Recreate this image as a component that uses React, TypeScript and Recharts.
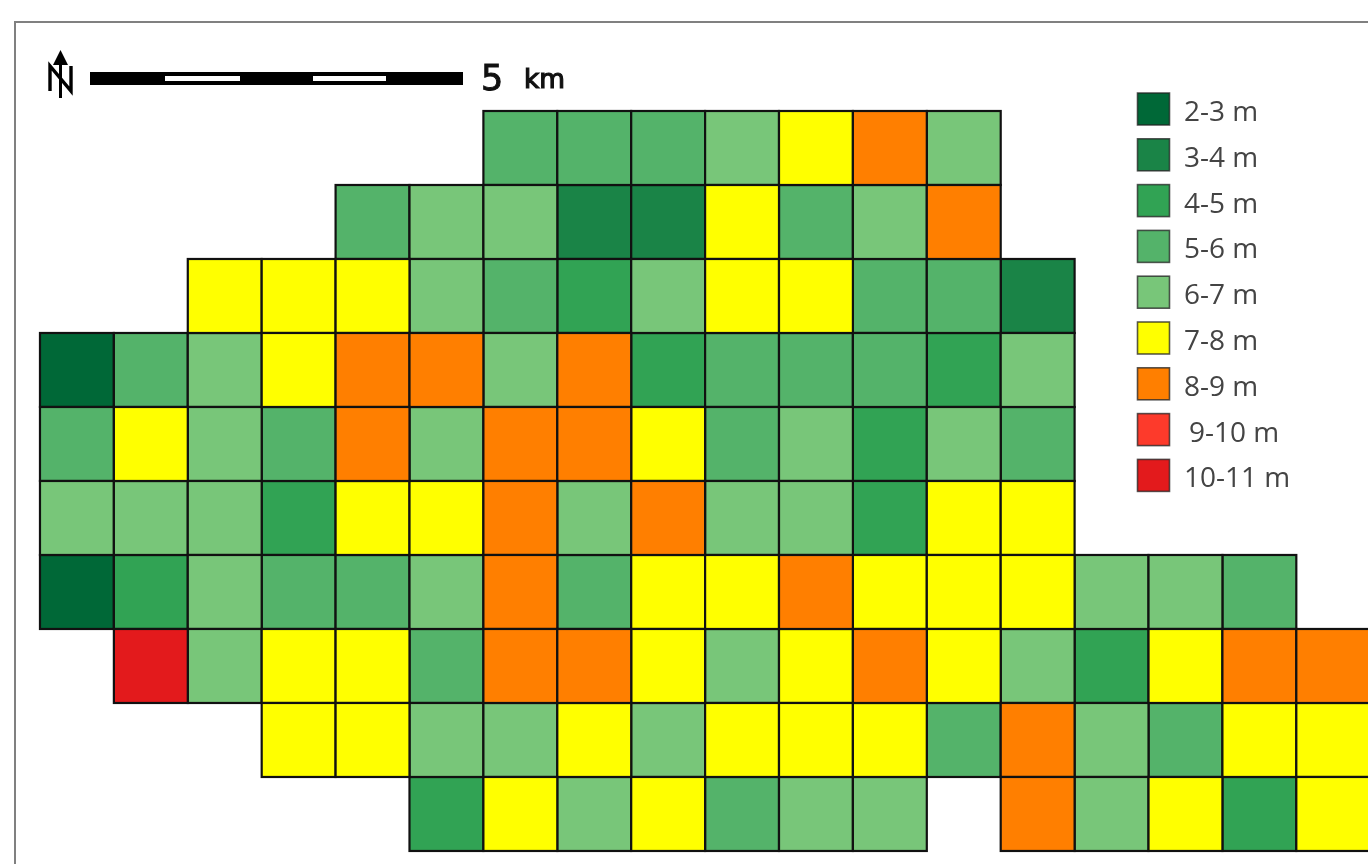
import React from "react";
import { ScatterChart, Scatter, XAxis, YAxis } from "recharts";

const classLabels = ["2-3 m", "3-4 m", "4-5 m", "5-6 m", "6-7 m", "7-8 m", "8-9 m", "9-10 m", "10-11 m"];
const classColors = ["#006837", "#1a8447", "#31a354", "#54b36a", "#78c679", "#ffff00", "#ff7f00", "#fd3a2b", "#e31a1c"];

const _ = null;
const row0 = [_, _, _, _, _, _, 3, 3, 3, 4, 5, 6, 4];
const row1 = [_, _, _, _, 3, 4, 4, 1, 1, 5, 3, 4, 6];
const row2 = [_, _, 5, 5, 5, 4, 3, 2, 4, 5, 5, 3, 3, 1];
const row3 = [0, 3, 4, 5, 6, 6, 4, 6, 2, 3, 3, 3, 2, 4];
const row4 = [3, 5, 4, 3, 6, 4, 6, 6, 5, 3, 4, 2, 4, 3];
const row5 = [4, 4, 4, 2, 5, 5, 6, 4, 6, 4, 4, 2, 5, 5];
const row6 = [0, 2, 4, 3, 3, 4, 6, 3, 5, 5, 6, 5, 5, 5, 4, 4, 3];
const row7 = [_, 8, 4, 5, 5, 3, 6, 6, 5, 4, 5, 6, 5, 4, 2, 5, 6, 6];
const row8 = [_, _, _, 5, 5, 4, 4, 5, 4, 5, 5, 5, 3, 6, 4, 3, 5, 5];
const row9 = [_, _, _, _, _, 2, 5, 4, 5, 3, 4, 4, _, 6, 4, 5, 2, 5];
const rows = [row0, row1, row2, row3, row4, row5, row6, row7, row8, row9];

const cells = rows.flatMap((r, ri) =>
  r.flatMap((v, ci) => (v === null ? [] : [{ col: ci + 0.5, row: ri + 0.5, cls: v }]))
);

const CELL_W = 73.9;
const CELL_H = 74;

const CellShape = (props: any) => (
  <rect
    x={props.cx - CELL_W / 2}
    y={props.cy - CELL_H / 2}
    width={CELL_W}
    height={CELL_H}
    fill={props.fill}
    stroke="#111"
    strokeWidth={2.2}
  />
);

export default function App() {
  return (
    <div style={{ position: "absolute", left: 0, top: 0, width: 1368, height: 864, overflow: "hidden", background: "#fff" }}>
      <div style={{ position: "absolute", left: 14, top: 21, width: 1400, height: 900, border: "2px solid #808080", boxSizing: "border-box" }} />
      <div style={{ position: "absolute", left: 0, top: 0, filter: "blur(0.6px)" }}>
        <ScatterChart width={1368} height={864} margin={{ top: 0, right: 0, bottom: 0, left: 0 }}>
          <XAxis type="number" dataKey="col" domain={[-0.541, 17.97]} hide allowDataOverflow />
          <YAxis type="number" dataKey="row" domain={[-1.5, 10.176]} reversed hide allowDataOverflow />
          {classLabels.map((name, i) => (
            <Scatter
              key={name}
              name={name}
              data={cells.filter((c) => c.cls === i)}
              fill={classColors[i]}
              shape={CellShape}
              isAnimationActive={false}
            />
          ))}
        </ScatterChart>
      </div>

      <svg width={1368} height={864} style={{ position: "absolute", left: 0, top: 0, filter: "blur(0.7px)" }}>
        {/* north arrow */}
        <path d="M60.5 50 L68 65 L53 65 Z" fill="#000" />
        <path d="M60.5 60 V98" stroke="#000" strokeWidth={3} fill="none" />
        <path d="M50 91 V66 L71 91 V66" stroke="#000" strokeWidth={3.4} fill="none" />
        {/* scale bar */}
        <rect x={90} y={72} width={373} height={13} fill="#000" />
        <rect x={165} y={76} width={75} height={5} fill="#fff" />
        <rect x={313} y={76} width={73} height={5} fill="#fff" />
        <text x={481} y={90} fontFamily="'DejaVu Sans'" fontSize={35} fill="#111" stroke="#111" strokeWidth={1}>5</text>
        <text x={524} y={88} fontFamily="'DejaVu Sans'" fontSize={26} fill="#111" stroke="#111" strokeWidth={1.2} textLength={41} lengthAdjust="spacingAndGlyphs">km</text>
        {/* legend */}
        {classLabels.map((name, i) => (
          <g key={name}>
            <rect x={1137.5} y={93 + i * 45.8} width={32} height={32} fill={classColors[i]} stroke="#222" strokeOpacity={0.75} strokeWidth={1.6} />
            <text
              x={name === "9-10 m" ? 1189 : 1184}
              y={121 + i * 45.8}
              fontFamily="'Open Sans'"
              fontSize={28}
              fill="#444"
            >
              {name}
            </text>
          </g>
        ))}
      </svg>
    </div>
  );
}
